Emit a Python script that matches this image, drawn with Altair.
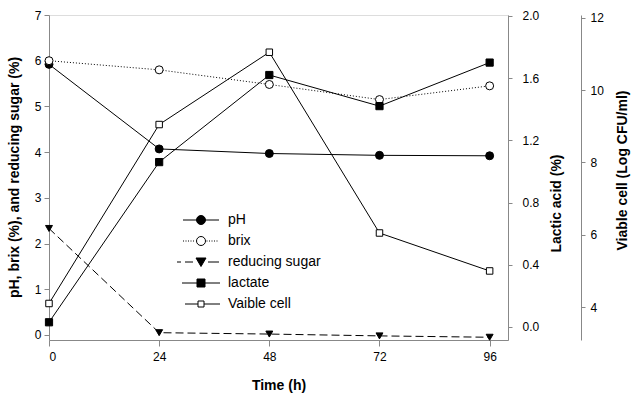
import altair as alt
import pandas as pd

# ---- data ----
time_h = [0, 24, 48, 72, 96]
ph = [5.92, 4.07, 3.97, 3.93, 3.92]
brix = [6.00, 5.80, 5.48, 5.15, 5.45]
reducing_sugar = [2.33, 0.05, 0.02, -0.02, -0.05]
lactate = [0.03, 1.06, 1.62, 1.42, 1.70]
viable_cell = [4.10, 9.05, 11.05, 6.05, 5.00]

series_names = ["pH", "brix", "reducing sugar", "lactate", "Vaible cell"]
x_ticks = [0, 24, 48, 72, 96]
left_ticks = [0, 1, 2, 3, 4, 5, 6, 7]
lactic_ticks = [0.0, 0.4, 0.8, 1.2, 1.6, 2.0]
viable_ticks = [4, 6, 8, 10, 12]

df = pd.DataFrame({
    "time": time_h, "ph": ph, "brix": brix, "sugar": reducing_sugar,
    "lactate": lactate, "viable": viable_cell,
})

FONT = "Liberation Sans"
BLACK = "black"

x_enc = alt.X(
    "time:Q",
    scale=alt.Scale(domain=[0, 100], nice=False, zero=False),
    axis=alt.Axis(values=x_ticks, title="Time (h)", format="d", grid=False,
                  tickSize=6, labelPadding=5, labelFontSize=12,
                  titleFontSize=14, titleFontWeight="bold",
                  titleY=45, titleBaseline="middle"),
)

left_scale = alt.Scale(domain=[-0.11, 7], nice=False, zero=False)
left_axis = alt.Axis(values=left_ticks, format="d", grid=False, orient="left",
                     title="pH, brix (%), and reducing sugar (%)",
                     tickSize=5, labelPadding=3, labelFontSize=12,
                     titleFontSize=14, titleFontWeight="bold",
                     titleAngle=270, titleX=-35, titleY=162,
                     titleBaseline="middle", titleAlign="center")

lactic_scale = alt.Scale(domain=[-0.084, 2.006], nice=False, zero=False)
lactic_axis = alt.Axis(values=lactic_ticks, format=".1f", grid=False, orient="right",
                       title="Lactic acid (%)",
                       tickSize=4, labelPadding=10, labelFontSize=12,
                       titleFontSize=14, titleFontWeight="bold",
                       titleAngle=270, titleX=48, titleY=188,
                       titleBaseline="middle", titleAlign="center")

viable_scale = alt.Scale(domain=[3.09, 12.08], nice=False, zero=False)
viable_axis = alt.Axis(values=viable_ticks, format="d", grid=False, orient="right",
                       offset=73, title="Viable cell (Log CFU/ml)",
                       tickSize=4, labelPadding=5, labelFontSize=12,
                       titleFontSize=14, titleFontWeight="bold",
                       titleAngle=270, titleX=41, titleY=155,
                       titleBaseline="middle", titleAlign="center")


def series(field, scale, axis, shape, size, fill, dash=None):
    y = alt.Y(f"{field}:Q", scale=scale, axis=axis)
    line_kw = dict(color=BLACK, strokeWidth=1)
    if dash:
        line_kw["strokeDash"] = dash
    line = alt.Chart(df).mark_line(**line_kw).encode(x=x_enc, y=y)
    pts = alt.Chart(df).mark_point(shape=shape, size=size, filled=True, fill=fill,
                                   stroke=BLACK, strokeWidth=1, opacity=1).encode(x=x_enc, y=y)
    return [line, pts]


left_group = alt.layer(
    *series("ph", left_scale, left_axis, "circle", 64, BLACK),
    *series("brix", left_scale, left_axis, "circle", 64, "white", [1, 2]),
    *series("sugar", left_scale, left_axis, "triangle-down", 48, BLACK, [8, 4]),
)
lactic_group = alt.layer(*series("lactate", lactic_scale, lactic_axis, "square", 52, BLACK))
viable_group = alt.layer(*series("viable", viable_scale, viable_axis, "square", 42, "white"))


# ---- legend symbols (line + marker) as custom paths ----
def seg(a, b):
    return f"M{a:.2f},0H{b:.2f}"


def dotted(a, b, step=0.5, ln=0.2):
    out = []
    v = a
    while v + ln <= b + 1e-9:
        out.append(seg(v, v + ln))
        v += step
    return "".join(out)


def circle(r):
    return f"M{-r},0A{r},{r} 0 1,0 {r},0A{r},{r} 0 1,0 {-r},0Z"


def square(h):
    return f"M{-h},{-h}H{h}V{h}H{-h}Z"


p_ph = seg(-3.6, -0.9) + seg(0.9, 3.6) + circle(0.9)
p_brix = dotted(-3.6, -1.0) + dotted(1.1, 3.6) + circle(0.9)
p_sugar = seg(-4.8, -4.0) + seg(-3.2, -1.6) + seg(1.4, 3.6) + "M-1,-0.8H1L0,0.9Z"
p_lact = seg(-3.8, -0.8) + seg(0.8, 3.8) + square(0.8)
p_via = seg(-3.2, -0.6) + seg(0.6, 3.8) + square(0.6)

legend_paths = [p_ph, p_brix, p_sugar, p_lact, p_via]
legend_fills = [BLACK, "white", BLACK, BLACK, "white"]
legend_strokes = [BLACK] * 5

legend_df = pd.DataFrame({"series": series_names})
leg = alt.Legend(orient="none", legendX=145, legendY=198, title=None,
                 symbolSize=100, labelOffset=20, rowPadding=7, padding=0,
                 symbolStrokeWidth=1,
                 labelFontSize=14, labelFont=FONT, labelColor=BLACK,
                 labelLimit=0)
legend_layer = alt.Chart(legend_df).mark_point(opacity=1, strokeWidth=1).encode(
    shape=alt.Shape("series:N", scale=alt.Scale(domain=series_names, range=legend_paths), legend=leg),
    fill=alt.Fill("series:N", scale=alt.Scale(domain=series_names, range=legend_fills), legend=leg),
    stroke=alt.Stroke("series:N", scale=alt.Scale(domain=series_names, range=legend_strokes), legend=leg),
).transform_filter("false")

chart = alt.layer(left_group, lactic_group, viable_group, legend_layer).resolve_scale(
    y="independent"
).properties(
    width=459, height=325,
    autosize=alt.AutoSizeParams(type="none"),
    padding={"left": 49, "top": 15, "right": 127, "bottom": 54},
    background="white",
).configure_view(
    stroke=BLACK, strokeWidth=1,
).configure_axis(
    domainColor=BLACK, tickColor=BLACK, labelColor=BLACK, titleColor=BLACK,
    labelFont=FONT, titleFont=FONT, domainWidth=1, tickWidth=1,
).configure(font=FONT)

chart.save("out.html", embed_options={"renderer": "svg", "actions": False})
